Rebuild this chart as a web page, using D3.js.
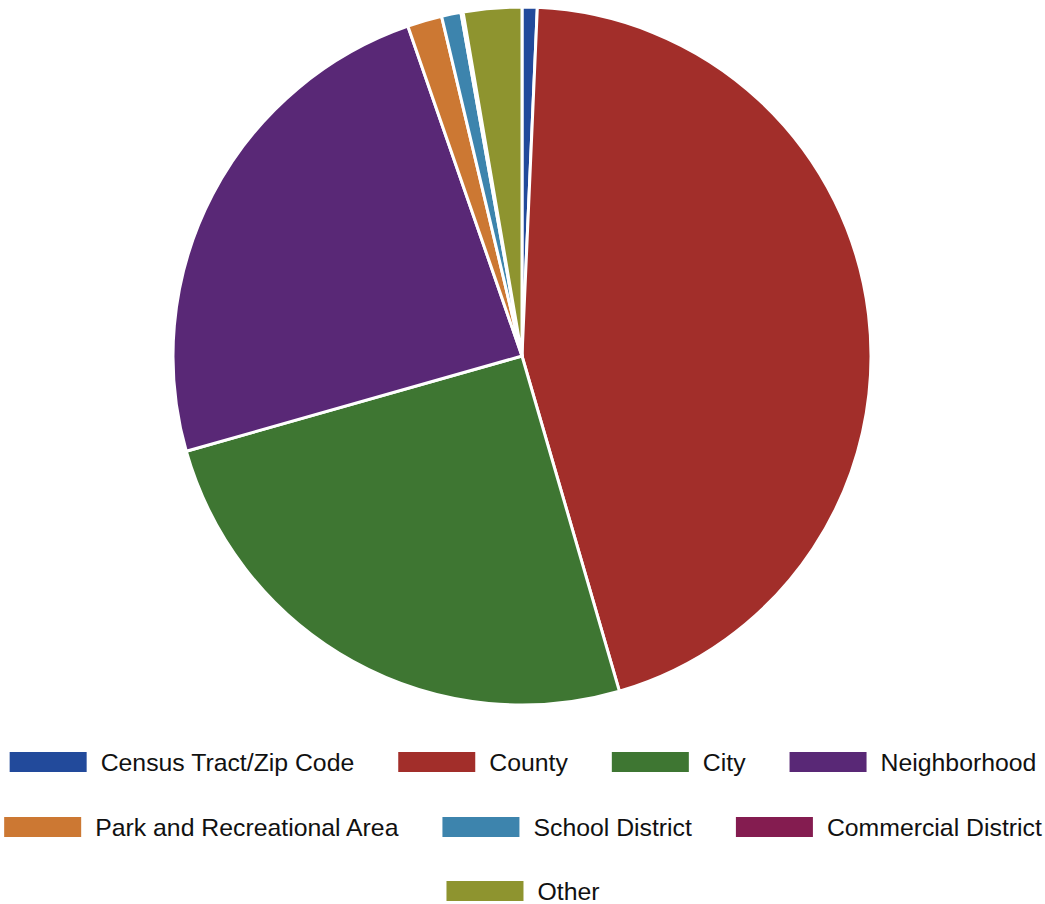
<!DOCTYPE html>
<html>
<head>
<meta charset="utf-8">
<script src="https://cdn.jsdelivr.net/npm/d3@7/dist/d3.min.js"></script>
<style>
  html, body { margin: 0; padding: 0; background: #fff; }
  svg { display: block; }
</style>
</head>
<body>
<svg id="chart" width="1045" height="904"></svg>
<script>
// Share of records by geographic level (percent)
const categories = [
  "Census Tract/Zip Code",
  "County",
  "City",
  "Neighborhood",
  "Park and Recreational Area",
  "School District",
  "Commercial District",
  "Other"
];
const values = [0.7, 44.8, 25.1, 24.1, 1.6, 0.9, 0.1, 2.7];
const colors = [
  "#224a9b", "#a22e2a", "#3e7632", "#592876",
  "#cc7833", "#3d84ad", "#841c50", "#8e942f"
];
// Legend rows (indices into categories)
const legendRows = [[0, 1, 2, 3], [4, 5, 6], [7]];

const svg = d3.select("#chart");
const cx = 522, cy = 356, radius = 349;

const data = categories.map((c, i) => ({ name: c, value: values[i], color: colors[i] }));

const pie = d3.pie().sort(null).value(d => d.value);
const arc = d3.arc().innerRadius(0).outerRadius(radius);

svg.append("g")
  .attr("transform", `translate(${cx},${cy})`)
  .selectAll("path")
  .data(pie(data))
  .join("path")
  .attr("d", arc)
  .attr("fill", d => d.data.color)
  .attr("stroke", "#fff")
  .attr("stroke-width", 3)
  .attr("stroke-linejoin", "round");

// Legend: centered rows of swatch + label
const boxW = 77, boxH = 20, textGap = 14, itemGap = 44;
const rowY = [762, 827, 891];
const centerX = 523;
const legend = svg.append("g").attr("font-family", "'Liberation Sans', Arial, Helvetica, sans-serif")
  .attr("font-size", 24.8).attr("fill", "#111");

legendRows.forEach((row, r) => {
  const g = legend.append("g");
  let x = 0;
  row.forEach(i => {
    const item = g.append("g").attr("transform", `translate(${x},0)`);
    item.append("rect")
      .attr("x", 0).attr("y", rowY[r] - boxH / 2)
      .attr("width", boxW).attr("height", boxH)
      .attr("fill", colors[i]);
    const t = item.append("text")
      .attr("x", boxW + textGap).attr("y", rowY[r])
      .attr("dy", "0.35em")
      .text(categories[i]);
    const w = t.node().getComputedTextLength();
    x += boxW + textGap + w + itemGap;
  });
  const total = x - itemGap;
  g.attr("transform", `translate(${centerX - total / 2},0)`);
});
</script>
</body>
</html>
